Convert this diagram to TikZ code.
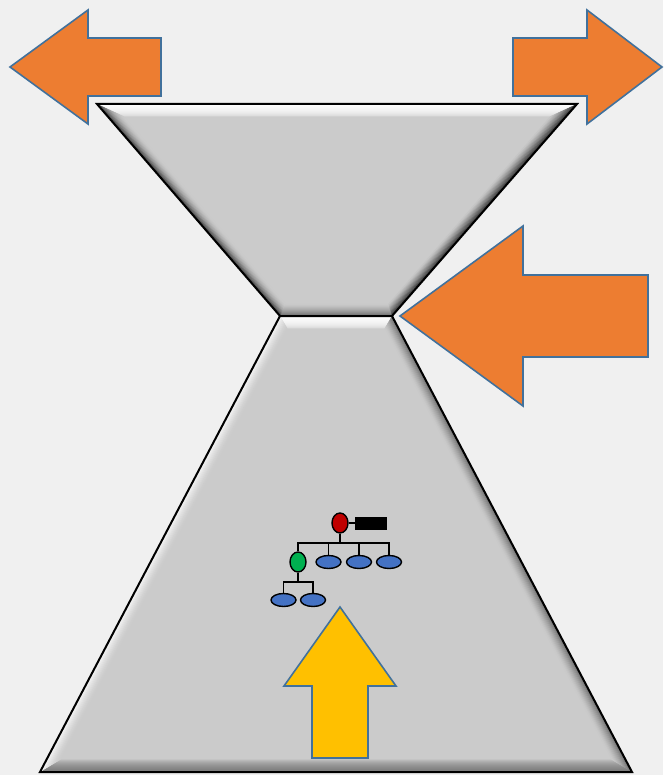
\documentclass[tikz,border=0pt]{standalone}
\usetikzlibrary{shapes.geometric,calc}
\definecolor{bg}{HTML}{F0F0F0}
\definecolor{orng}{HTML}{ED7D31}
\definecolor{ylw}{HTML}{FFC000}
\definecolor{edgeblue}{HTML}{41719C}
\definecolor{body}{HTML}{CBCBCB}
\definecolor{redc}{HTML}{C00000}
\definecolor{greenc}{HTML}{00B050}
\definecolor{bluec}{HTML}{4472C4}
\tikzset{
  bigarrow/.style={draw=edgeblue, line width=1.6pt, line join=miter},
  trap/.style={draw=black, line width=2pt, line join=miter},
  person/.style={ellipse, draw=black, line width=1.4pt, inner sep=0pt, minimum width=16pt, minimum height=20pt},
  child/.style={ellipse, draw=black, line width=1.4pt, inner sep=0pt, fill=bluec, minimum width=25pt, minimum height=13pt},
  link/.style={draw=black, line width=1.2pt}
}
% #1 outer1, #2 inner1, #3 outer2, #4 inner2, #5 tint colour, #6 max percent, #7 exponent
\newcommand\mybevel[7]{%
  \foreach \i in {0,...,11}{%
    \pgfmathsetmacro\ta{\i/12}%
    \pgfmathsetmacro\tb{(\i+1.3)/12}%
    \pgfmathsetmacro\v{#6*(1-\i/12)^#7}%
    \fill[#5!\v!body] ($(#1)!\ta!(#2)$) -- ($(#1)!\tb!(#2)$) -- ($(#3)!\tb!(#4)$) -- ($(#3)!\ta!(#4)$) -- cycle;
  }}
\begin{document}
\begin{tikzpicture}[x=1pt,y=-1pt]
\fill[bg] (0,0) rectangle (663,775);
\useasboundingbox (0,0) rectangle (663,775);

% ---------- upper trapezoid ----------
\coordinate (UA) at (97,104);  \coordinate (Ua) at (123.2,116);
\coordinate (UB) at (577,104); \coordinate (Ub) at (550.8,116);
\coordinate (UC) at (392,316); \coordinate (Uc) at (388.5,304);
\coordinate (UD) at (280,316); \coordinate (Ud) at (285.5,304);
\fill[body] (UA) -- (UB) -- (UC) -- (UD) -- cycle;
\mybevel{UA}{Ua}{UB}{Ub}{white}{100}{0.4}
\mybevel{UD}{Ud}{UC}{Uc}{black}{45}{1.5}
\mybevel{UA}{Ua}{UD}{Ud}{black}{70}{2}
\mybevel{UB}{Ub}{UC}{Uc}{black}{75}{1.3}
\draw[trap] (UA) -- (UB) -- (UC) -- (UD) -- cycle;

% ---------- lower trapezoid ----------
\coordinate (LA) at (280,316); \coordinate (La) at (287.2,328);
\coordinate (LB) at (392,316); \coordinate (Lb) at (384.8,328);
\coordinate (LC) at (632,772); \coordinate (Lc) at (612.1,760);
\coordinate (LD) at (40,772);  \coordinate (Ld) at (59.9,760);
\fill[body] (LA) -- (LB) -- (LC) -- (LD) -- cycle;
\mybevel{LA}{La}{LB}{Lb}{white}{100}{0.4}
\mybevel{LD}{Ld}{LC}{Lc}{black}{40}{0.6}
\mybevel{LA}{La}{LD}{Ld}{white}{85}{1.5}
\mybevel{LB}{Lb}{LC}{Lc}{black}{45}{1.5}
\draw[trap] (LA) -- (LB) -- (LC) -- (LD) -- cycle;

% ---------- orange arrows ----------
\draw[bigarrow, fill=orng] (10,67) -- (88,10) -- (88,38) -- (161,38) -- (161,96) -- (88,96) -- (88,124) -- cycle;
\draw[bigarrow, fill=orng] (662,67) -- (587,10) -- (587,38) -- (513,38) -- (513,96) -- (587,96) -- (587,124) -- cycle;
\draw[bigarrow, fill=orng] (400,316) -- (523,226) -- (523,275) -- (648,275) -- (648,357) -- (523,357) -- (523,406) -- cycle;

% ---------- yellow arrow ----------
\draw[bigarrow, fill=ylw] (340,607) -- (396,686) -- (368,686) -- (368,758) -- (312,758) -- (312,686) -- (284,686) -- cycle;

% ---------- org chart ----------
\node[person, fill=redc] (red) at (340,523) {};
\node[draw=black, fill=black, inner sep=0pt, minimum width=31pt, minimum height=12pt] (bar) at (370.5,523) {};
\node[person, fill=greenc] (grn) at (298,562) {};
\node[child] (b1) at (328.5,562) {};
\node[child] (b2) at (359,562) {};
\node[child] (b3) at (389,562) {};
\node[child] (b4) at (283.5,600) {};
\node[child] (b5) at (313,600) {};
\coordinate (bus) at (340,543);
\coordinate (bustwo) at (298,582);

\draw[link] (red.east) -- (bar.west);
\draw[link] (red.south) -- (bus);
\draw[link] (grn.north) |- (b3 |- bus) -- (b3.north);
\draw[link] (b1.north) -- (b1 |- bus);
\draw[link] (b2.north) -- (b2 |- bus);
\draw[link] (grn.south) -- (bustwo);
\draw[link] (b4.north) |- (b5 |- bustwo) -- (b5.north);
\end{tikzpicture}
\end{document}
